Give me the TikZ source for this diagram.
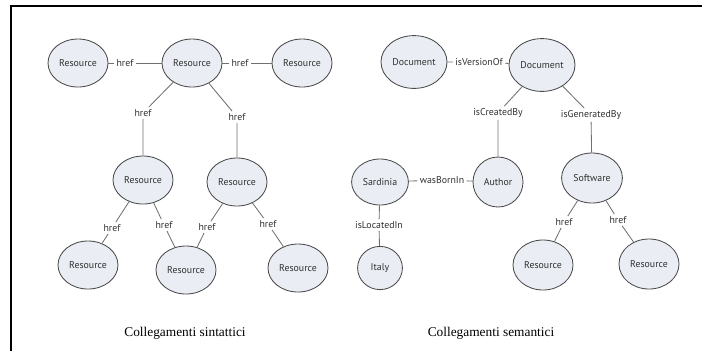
\documentclass[tikz,border=0pt]{standalone}
\usepackage{xcolor}
\usepackage{fontspec}
\setmainfont{Liberation Serif}
\setsansfont{PT Sans}
\usetikzlibrary{shapes.geometric}

\definecolor{nodefill}{HTML}{EAEEF4}
\definecolor{nodeline}{HTML}{4A4A4A}
\definecolor{linkgray}{HTML}{707070}
\definecolor{textgray}{HTML}{303030}

\begin{document}
\begin{tikzpicture}[x=0.025cm,y=-0.025cm]
			\tikzstyle{term} = [ellipse, draw=nodeline, fill=nodefill, line width=0.6pt, inner sep=0pt, minimum width=1.5cm, minimum height=1.2cm, font=\sffamily\fontsize{7}{8}\selectfont, text=textgray]
			\tikzstyle{prop} = [inner sep=1.5pt, font=\sffamily\fontsize{7}{8}\selectfont, text=textgray]
			\tikzstyle{caption} = [font=\fontsize{9.5}{11}\selectfont]
			\tikzset{edge/.style = {-, draw=linkgray, line width=0.6pt}}
			
			\useasboundingbox (0,0) rectangle (702,351);
			\draw[line width=0.9pt] (702,6) -- (11,6) -- (11,351);
			
			% collegamenti sintattici
			\node[term](res1) at (78,63) {Resource};
			\node[term](res2) at (192,63) {Resource};
			\node[term](res3) at (302,63) {Resource};
			\node[term](res4) at (143,180) {Resource};
			\node[term](res5) at (237,182) {Resource};
			\node[term](res6) at (88,265) {Resource};
			\node[term](res7) at (186,270) {Resource};
			\node[term](res8) at (298,268) {Resource};
			
			\node[prop](href1) at (125,63) {href};
			\node[prop](href2) at (240,63) {href};
			\node[prop](href3) at (143,113) {href};
			\node[prop](href4) at (237,117) {href};
			\node[prop](href5) at (112,228) {href};
			\node[prop](href6) at (164,225) {href};
			\node[prop](href7) at (207,227) {href};
			\node[prop](href8) at (268,224) {href};
			
			\draw[edge](res1) to (href1) to (res2);
			\draw[edge](res2) to (href2) to (res3);
			\draw[edge](res2) to (href3) to (res4);
			\draw[edge](res2) to (href4) to (res5);
			\draw[edge](res4) to (href5) to (res6);
			\draw[edge](res4) to (href6) to (res7);
			\draw[edge](res5) to (href7) to (res7);
			\draw[edge](res5) to (href8) to (res8);
			
			\node[caption](syntax) at (185,333) {Collegamenti sintattici};
			
			% collegamenti semantici
			\node[term, minimum width=1.65cm, minimum height=1.32cm](doc1) at (414,62) {Document};
			\node[term, minimum width=1.65cm, minimum height=1.32cm](doc2) at (542,65) {Document};
			\node[term, minimum width=1.25cm, minimum height=1.25cm](author) at (498,182) {Author};
			\node[term, minimum width=1.52cm, minimum height=1.25cm](software) at (592,178) {Software};
			\node[term, minimum width=1.42cm, minimum height=1.15cm](sardinia) at (380,182) {Sardinia};
			\node[term, minimum width=1.12cm, minimum height=1.08cm](italy) at (380,268) {Italy};
			\node[term, minimum height=1.25cm](res9) at (543,265) {Resource};
			\node[term, minimum height=1.25cm](res10) at (649,264) {Resource};
			
			\node[prop](versionof) at (479,62) {isVersionOf};
			\node[prop](createdby) at (498,113) {isCreatedBy};
			\node[prop](generatedby) at (591,115) {isGeneratedBy};
			\node[prop](bornin) at (442,180) {wasBornIn};
			\node[prop](locatedin) at (379,225) {isLocatedIn};
			\node[prop](href9) at (564,222) {href};
			\node[prop](href10) at (618,220) {href};
			
			\draw[edge](doc1) to (versionof) to (doc2);
			\draw[edge](doc2) to (createdby) to (author);
			\draw[edge](doc2) to (generatedby) to (software);
			\draw[edge](sardinia) to (bornin) to (author);
			\draw[edge](sardinia) to (locatedin) to (italy);
			\draw[edge](software) to (href9) to (res9);
			\draw[edge](software) to (href10) to (res10);
			
			\node[caption](semantic) at (491,333) {Collegamenti semantici};
			
\end{tikzpicture}
\end{document}
